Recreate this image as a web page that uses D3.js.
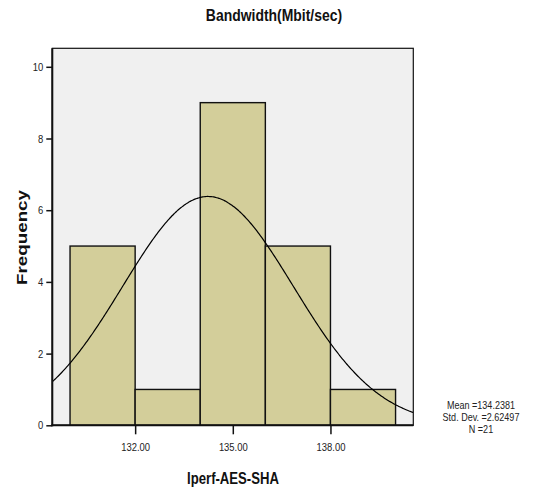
<!DOCTYPE html>
<html><head><meta charset="utf-8">
<script src="https://cdn.jsdelivr.net/npm/d3@7"></script>
<style>
html,body{margin:0;padding:0;background:#fff;}
svg{display:block;}
text{font-family:"Liberation Sans",Arial,sans-serif;}
</style></head>
<body>
<script>
// ---- data ----
const binStarts = [130, 132, 134, 136, 138];
const binWidth = 2;
const counts = [5, 1, 9, 5, 1];
const statLabels = ["Mean =134.2381", "Std. Dev. =2.62497", "N =21"];
const mean = 134.2381, sd = 2.62497, n = 21;
const xTickValues = [132, 135, 138];
const xTickLabels = ["132.00", "135.00", "138.00"];
const yTickValues = [0, 2, 4, 6, 8, 10];
const title = "Bandwidth(Mbit/sec)";
const xTitle = "Iperf-AES-SHA";
const yTitle = "Frequency";

// ---- layout ----
const W = 536, H = 493;
const plot = {left: 52.3, right: 413.3, top: 48.3, bottom: 425.3};
const NARROW = 0.82;

const svg = d3.select("body").append("svg").attr("width", W).attr("height", H);

function narrow(sel) {
  sel.each(function () {
    const w = this.getComputedTextLength();
    d3.select(this).attr("textLength", w * NARROW).attr("lengthAdjust", "spacingAndGlyphs");
  });
}

const x = d3.scaleLinear().domain([129.455, 140.545]).range([plot.left, plot.right]);
const y = d3.scaleLinear().domain([0, 10.516]).range([plot.bottom, plot.top]);

// background
svg.append("rect").attr("x", plot.left).attr("y", plot.top)
  .attr("width", plot.right - plot.left).attr("height", plot.bottom - plot.top)
  .attr("fill", "#f0f0f0").attr("stroke", "#111").attr("stroke-width", 1.2);

svg.append("defs").append("clipPath").attr("id", "clip").append("rect")
  .attr("x", plot.left).attr("y", plot.top)
  .attr("width", plot.right - plot.left).attr("height", plot.bottom - plot.top);

// bars
svg.append("g").selectAll("rect").data(binStarts).join("rect")
  .attr("x", (d) => x(d))
  .attr("y", (d, i) => y(counts[i]))
  .attr("width", (d) => x(d + binWidth) - x(d))
  .attr("height", (d, i) => y(0) - y(counts[i]))
  .attr("fill", "#d3ce9a").attr("stroke", "#111").attr("stroke-width", 1.4);

// normal curve (fitted from mean/sd/n)
const xs = d3.range(0, 301).map(i => x.domain()[0] + (x.domain()[1] - x.domain()[0]) * i / 300);
const curve = xs.map(v => [v, n * binWidth / (sd * Math.sqrt(2 * Math.PI)) * Math.exp(-0.5 * ((v - mean) / sd) ** 2)]);
svg.append("path").attr("clip-path", "url(#clip)")
  .attr("d", d3.line().x(d => x(d[0])).y(d => y(d[1])).curve(d3.curveBasis)(curve))
  .attr("fill", "none").attr("stroke", "#000").attr("stroke-width", 1.2);

// axes lines (thicker left and bottom)
svg.append("line").attr("x1", plot.left).attr("x2", plot.left).attr("y1", plot.top).attr("y2", plot.bottom + 1)
  .attr("stroke", "#111").attr("stroke-width", 2);
svg.append("line").attr("x1", plot.left - 1).attr("x2", plot.right).attr("y1", plot.bottom).attr("y2", plot.bottom)
  .attr("stroke", "#111").attr("stroke-width", 2);

// y axis
const yAxis = d3.axisLeft(y).tickValues(yTickValues).tickSize(6).tickPadding(3).tickFormat(d3.format("d"));
const gy = svg.append("g").attr("transform", `translate(${plot.left},0)`).call(yAxis);
gy.select(".domain").remove();
gy.selectAll(".tick line").attr("stroke", "#111").attr("stroke-width", 1.5);
gy.selectAll(".tick text").attr("font-family", "'Liberation Sans',Arial,sans-serif")
  .attr("font-size", 11.5).attr("fill", "#222").call(narrow);

// x axis
const xAxis = d3.axisBottom(x).tickValues(xTickValues).tickSize(9).tickPadding(9)
  .tickFormat((d, i) => xTickLabels[i]);
const gx = svg.append("g").attr("transform", `translate(0,${plot.bottom})`).call(xAxis);
gx.select(".domain").remove();
gx.selectAll(".tick line").attr("stroke", "#111").attr("stroke-width", 1.5);
gx.selectAll(".tick text").attr("font-family", "'Liberation Sans',Arial,sans-serif")
  .attr("font-size", 11.5).attr("fill", "#222").call(narrow);

// titles
svg.append("text").attr("x", 274).attr("y", 21)
  .attr("text-anchor", "middle").attr("font-size", 17).attr("font-weight", "bold").attr("fill", "#111")
  .text(title).call(narrow);
svg.append("text").attr("x", 233).attr("y", 483.5)
  .attr("text-anchor", "middle").attr("font-size", 16).attr("font-weight", "bold").attr("fill", "#111")
  .text(xTitle).call(narrow);
svg.append("text").attr("transform", "translate(26.5,237.5) rotate(-90)")
  .attr("text-anchor", "middle")
  .attr("font-size", 15).attr("font-weight", "bold").attr("fill", "#111")
  .attr("textLength", 95).attr("lengthAdjust", "spacingAndGlyphs")
  .text(yTitle);

// stats legend
svg.append("g").selectAll("text").data(statLabels).join("text")
  .attr("x", 481).attr("y", (d, i) => 409 + i * 12)
  .attr("text-anchor", "middle").attr("font-size", 11).attr("fill", "#222")
  .text(d => d).call(narrow);
</script>
</body></html>
